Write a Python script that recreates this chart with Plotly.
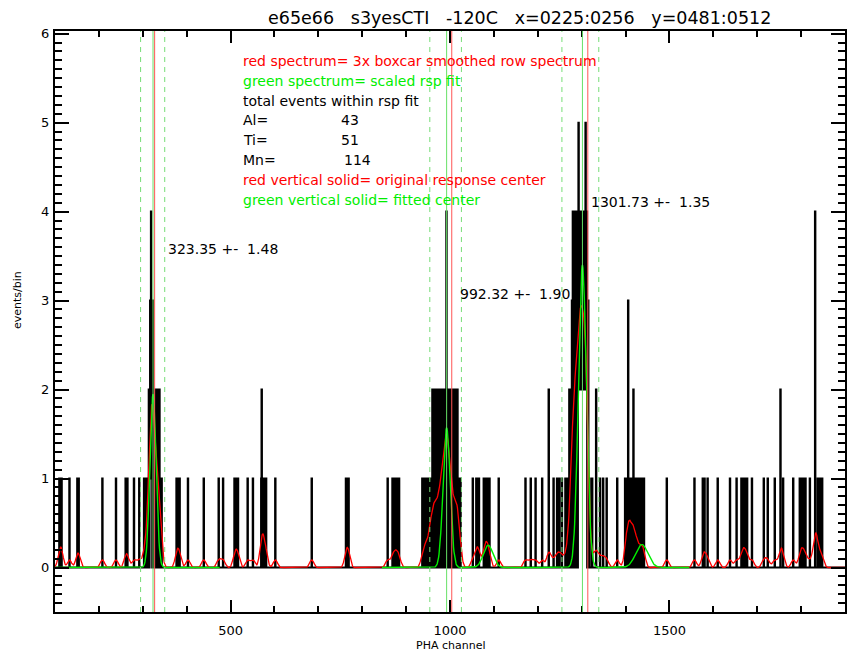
import numpy as np
import plotly.graph_objects as go

# ---- PHA histogram: channels that hold events and their counts (other channels are empty)
hist_channels = [
    110, 113, 115, 133, 151, 154, 208, 239, 261, 265, 280, 292, 303, 306, 309, 312,
    314, 316, 317, 318, 319, 320, 321, 323, 324, 325, 327, 328, 330, 331, 332, 334,
    336, 338, 339, 343,
    377, 380, 384, 403, 439, 473, 483, 509, 513, 517, 539, 551, 570, 571, 575, 578,
    581, 602, 685, 763, 766, 769, 858, 869, 874, 879, 884,
    937, 941, 945, 948, 952, 954, 956, 958, 960, 962, 964, 966, 968, 970, 972, 974,
    976, 977, 979, 981, 982, 983, 985, 986, 987, 989, 990, 991, 992, 994, 995, 996,
    998, 999, 1000, 1002, 1003, 1005, 1007, 1009, 1011, 1013, 1015, 1017, 1019, 1021,
    1024,
    1052, 1060, 1063, 1066, 1077, 1080, 1083, 1086, 1090, 1111, 1172, 1184, 1195,
    1210, 1225, 1236, 1244, 1249, 1255, 1263, 1268,
    1272, 1274, 1276, 1278, 1280, 1281, 1283, 1284, 1286, 1287, 1289, 1290, 1292,
    1293, 1294, 1295, 1296, 1297, 1298, 1299, 1300, 1301, 1302, 1303, 1304, 1305,
    1306, 1307, 1308, 1309, 1310, 1311, 1312, 1315, 1318,
    1324, 1333, 1342, 1349, 1357, 1381, 1399, 1402, 1406, 1409, 1411, 1413, 1416,
    1418, 1421, 1424, 1427, 1431, 1435, 1439, 1442, 1494, 1557, 1576, 1580, 1587,
    1610, 1638, 1653, 1664, 1668, 1672, 1677, 1688, 1715, 1724, 1740, 1753, 1759,
    1782, 1797, 1801, 1805, 1810, 1820, 1832, 1838, 1843, 1848,
]
hist_counts = [
    1, 1, 1, 1, 1, 1, 1, 1, 1, 1, 1, 1, 1, 1, 1, 1,
    2, 2, 3, 1, 4, 2, 3, 3, 2, 2, 2, 2, 2, 1, 2, 2,
    2, 2, 1, 1,
    1, 1, 1, 1, 1, 1, 1, 1, 1, 1, 1, 1, 1, 2, 1, 1,
    1, 1, 1, 1, 1, 1, 1, 1, 1, 1, 1,
    1, 1, 1, 1, 1, 1, 1, 1, 2, 1, 2, 1, 2, 1, 2, 1,
    2, 1, 2, 1, 2, 2, 1, 2, 2, 1, 2, 2, 4, 2, 1, 2,
    2, 1, 2, 1, 2, 1, 2, 1, 2, 1, 2, 2, 1, 1,
    1,
    1, 1, 1, 1, 1, 1, 1, 1, 1, 1, 1, 1, 1,
    1, 2, 1, 1, 1, 1, 1, 1,
    2, 1, 2, 3, 4, 2, 4, 3, 4, 2, 4, 3, 3,
    5, 2, 4, 2, 3, 4, 2, 3, 4, 2, 3, 4, 2,
    2, 3, 2, 5, 2, 3, 4, 3, 1,
    1, 2, 1, 1, 1, 1, 1, 1, 3, 1, 1, 1, 1,
    2, 1, 1, 1, 1, 1, 1, 1, 1, 1, 1, 1, 1,
    1, 1, 1, 1, 1, 1, 1, 1, 1, 1, 1, 2, 1,
    1, 1, 1, 1, 1, 1, 4, 1, 1, 1,
]

# ---- response fit results
line_names = ["Al", "Ti", "Mn"]
fit_centers = [323.35, 992.32, 1301.73]
fit_errors = [1.48, 1.90, 1.35]
fit_totals = [43, 51, 114]
fit_peaks = [1.95, 1.57, 3.40]
fit_sigmas = [7.0, 8.0, 9.0]
kbeta_centers = [1087.0, 1437.0]
kbeta_peaks = [0.25, 0.26]
kbeta_sigmas = [11.0, 14.0]
fit_ranges = [(100, 475), (845, 1545)]
rsp_centers = [327.0, 1004.0, 1314.0]
window_lo = [295.0, 954.0, 1255.0]
window_hi = [350.0, 1026.0, 1339.0]
label_pos = [(352, 3.58), (1018, 3.07), (1316, 4.11)]

RED = "#ff0000"
GREEN = "#00ee00"
FONT = "DejaVu Sans"

chan = np.arange(100, 1901)
counts = np.zeros(chan.size)
for c, n in zip(hist_channels, hist_counts):
    counts[c - chan[0]] += n

# three passes of a boxcar
box = np.ones(9) / 9.0
smoothed = counts.copy()
for _ in range(3):
    smoothed = np.convolve(smoothed, box, mode="same")

# scaled response: K-alpha + K-beta gaussians, only inside the fit windows
model = np.zeros(chan.size)
for mu, a, s in zip(fit_centers + kbeta_centers, fit_peaks + kbeta_peaks,
                    fit_sigmas + kbeta_sigmas):
    model += a * np.exp(-0.5 * ((chan - mu) / s) ** 2)
inside = np.zeros(chan.size, dtype=bool)
for lo, hi in fit_ranges:
    inside |= (chan >= lo) & (chan <= hi)
model = np.where(inside, model, np.nan)

fig = go.Figure()
fig.add_trace(go.Scatter(x=chan, y=counts, mode="lines",
                         line=dict(shape="hvh", color="black", width=2),
                         hoverinfo="skip"))
fig.add_trace(go.Scatter(x=chan, y=smoothed, mode="lines",
                         line=dict(color=RED, width=1.3), hoverinfo="skip"))
fig.add_trace(go.Scatter(x=chan, y=model, mode="lines", connectgaps=False,
                         line=dict(color=GREEN, width=1.4), hoverinfo="skip"))

shapes = []
for lo, hi, fc, rc in zip(window_lo, window_hi, fit_centers, rsp_centers):
    for xv in (lo, hi):
        shapes.append(dict(type="line", xref="x", yref="paper", x0=xv, x1=xv, y0=0, y1=1,
                           line=dict(color="#77dd77", width=1, dash="5px,5px"), layer="above"))
    shapes.append(dict(type="line", xref="x", yref="paper", x0=fc, x1=fc, y0=0, y1=1,
                       line=dict(color="#66e066", width=1), layer="above"))
    shapes.append(dict(type="line", xref="x", yref="paper", x0=rc, x1=rc, y0=0, y1=1,
                       line=dict(color="#ff5555", width=1), layer="above"))

NB = "\u00a0"
ann = []
ann.append(dict(text=f"e65e66{NB*3}s3yesCTI{NB*3}-120C{NB*3}x=0225:0256{NB*3}y=0481:0512",
                xref="paper", yref="paper", x=(521 - 55) / 792, y=1.0225, xanchor="center",
                yanchor="middle", showarrow=False,
                font=dict(family=FONT, size=17.5, color="black")))

legend_rows = [
    ("red spectrum= 3x boxcar smoothed row spectrum", RED, None),
    ("green spectrum= scaled rsp fit", GREEN, None),
    ("total events within rsp fit", "black", None),
    (f"{line_names[0]}=", "black", fit_totals[0]),
    (f"{line_names[1]}=", "black", fit_totals[1]),
    (f"{line_names[2]}=", "black", fit_totals[2]),
    ("red vertical solid= original response center", RED, None),
    ("green vertical solid= fitted center", GREEN, None),
]
row_py = [61, 81, 101, 120, 140, 160, 180, 200]
val_px = [340, 340, 343]
k = 0
for (txt, col, val), py in zip(legend_rows, row_py):
    yp = (612 - py) / 581
    ann.append(dict(text=txt, xref="paper", yref="paper", x=(241 - 55) / 792, y=yp,
                    xanchor="left", yanchor="middle", showarrow=False,
                    font=dict(family=FONT, size=14, color=col)))
    if val is not None:
        ann.append(dict(text=str(val), xref="paper", yref="paper", x=(val_px[k] - 55) / 792,
                        y=yp, xanchor="left", yanchor="middle", showarrow=False,
                        font=dict(family=FONT, size=14, color=col)))
        k += 1

for (lx, ly), fc, fe in zip(label_pos, fit_centers, fit_errors):
    ann.append(dict(text=f"{fc:.2f} +-{NB}{NB}{fe:.2f}", xref="x", yref="y", x=lx, y=ly,
                    xanchor="left", yanchor="middle", showarrow=False,
                    font=dict(family=FONT, size=14, color="black")))

ann.append(dict(text="PHA channel", xref="paper", yref="paper", x=(451 - 55) / 792,
                y=(612 - 645) / 581, xanchor="center", yanchor="middle", showarrow=False,
                font=dict(family=FONT, size=11, color="black")))
ann.append(dict(text="events/bin", xref="paper", yref="paper", x=(17 - 55) / 792,
                y=(612 - 300) / 581, xanchor="center", yanchor="middle", showarrow=False,
                textangle=-90, font=dict(family=FONT, size=11, color="black")))

axis_common = dict(ticks="inside", tickwidth=2, tickcolor="black", showline=True,
                   linewidth=2, linecolor="black", mirror="allticks", showgrid=False,
                   zeroline=False, tickfont=dict(family=FONT, size=13, color="black"))

fig.update_layout(
    width=850, height=652,
    margin=dict(l=55, r=3, t=31, b=40),
    paper_bgcolor="white", plot_bgcolor="white",
    showlegend=False,
    shapes=shapes, annotations=ann,
    xaxis=dict(range=[100, 1900], tickmode="linear", tick0=0, dtick=500, ticklen=12,
               minor=dict(tick0=0, dtick=100, ticks="inside", ticklen=6, tickwidth=2,
                          tickcolor="black"),
               ticklabelstandoff=5, **axis_common),
    yaxis=dict(range=[-0.5, 6.03], tickmode="linear", tick0=0, dtick=1, ticklen=14,
               minor=dict(tick0=0, dtick=0.1, ticks="inside", ticklen=7, tickwidth=2,
                          tickcolor="black"),
               ticklabelstandoff=1, **axis_common),
)

fig.write_html("out.html")
